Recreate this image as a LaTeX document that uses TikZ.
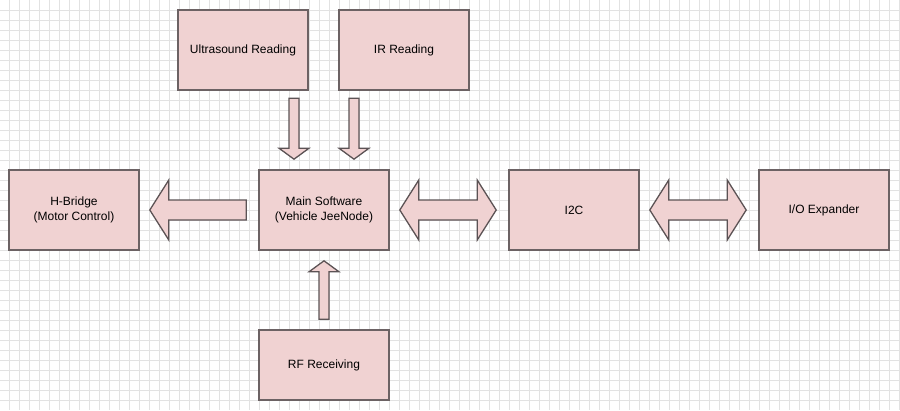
\documentclass[tikz,border=0pt]{standalone}
\usepackage{fontspec}
\setmainfont{Liberation Sans}
\usetikzlibrary{calc}

\definecolor{boxfill}{RGB}{240,210,210}
\definecolor{boxline}{RGB}{108,98,100}
\definecolor{gridcol}{RGB}{226,226,226}

\begin{document}
\begin{tikzpicture}[x=1pt, y=-1pt,
    block/.style={draw=boxline, fill=boxfill, line width=1.6pt, minimum width=130pt,
        minimum height=80pt, inner sep=0pt, align=center, font=\fontsize{12}{14.5}\selectfont},
    flow/.style={draw=boxline!85!black, fill=boxfill, line width=1.3pt, line join=miter}]

    % Page and grid
    \fill[white] (0,0) rectangle (900,410);
    \useasboundingbox (0,0) rectangle (900,410);
    \foreach \gx in {9.5,19.5,...,899.5}
        \draw[gridcol, line width=0.9pt] (\gx,0) -- (\gx,410);
    \foreach \gy in {10.5,20.5,...,400.5}
        \draw[gridcol, line width=0.9pt] (0,\gy) -- (900,\gy);

    % Boxes
    \node[block] (hbridge) at (74,210) {H-Bridge\\(Motor Control)};
    \node[block] (main) at (324,210) {Main Software\\(Vehicle JeeNode)};
    \node[block] (itwoc) at (574,210) {I2C};
    \node[block] (ioexp) at (824,210) {I/O Expander};
    \node[block] (ultra) at (243,50) {Ultrasound Reading};
    \node[block] (ir) at (404,50) {IR Reading};
    \node[block, minimum height=70pt] (rf) at (324,365) {RF Receiving};

    % Arrow ends (gaps to the boxes)
    \coordinate (ultraTop) at ($(main.north)+(-30,-71)$);
    \coordinate (ultraTip) at ($(main.north)+(-30,-10)$);
    \coordinate (irTop) at ($(main.north)+(30,-71)$);
    \coordinate (irTip) at ($(main.north)+(30,-10)$);
    \coordinate (rfTip) at ($(main.south)+(0,10)$);
    \coordinate (rfEnd) at ($(rf.north)+(0,-10)$);
    \coordinate (hbTip) at ($(hbridge.east)+(10,0)$);
    \coordinate (hbEnd) at ($(main.west)+(-12,0)$);
    \coordinate (busAL) at ($(main.east)+(10,0)$);
    \coordinate (busAR) at ($(itwoc.west)+(-12,0)$);
    \coordinate (busBL) at ($(itwoc.east)+(10,0)$);
    \coordinate (busBR) at ($(ioexp.west)+(-12,0)$);

    % Sensor inputs
    \draw[flow] ($(ultraTop)+(-5,0)$) -- ($(ultraTip)+(-5,-11)$) -- ++(-10,0) -- (ultraTip)
        -- ++(15,-11) -- ++(-10,0) -- ($(ultraTop)+(5,0)$) -- cycle;
    \draw[flow] ($(irTop)+(-5,0)$) -- ($(irTip)+(-5,-11)$) -- ++(-10,0) -- (irTip)
        -- ++(15,-11) -- ++(-10,0) -- ($(irTop)+(5,0)$) -- cycle;

    % Radio input
    \draw[flow] ($(rfEnd)+(-5,0)$) -- ($(rfTip)+(-5,11)$) -- ++(-10,0) -- (rfTip)
        -- ++(15,11) -- ++(-10,0) -- ($(rfEnd)+(5,0)$) -- cycle;

    % Motor output
    \draw[flow] (hbTip) -- ++(19,-30) -- ++(0,20) -- ($(hbEnd)+(0,-10)$) -- ($(hbEnd)+(0,10)$)
        -- ($(hbTip)+(19,10)$) -- ++(0,20) -- cycle;

    % Bus links
    \draw[flow] (busAL) -- ++(19,-30) -- ++(0,20) -- ($(busAR)+(-19,-10)$) -- ++(0,-20) -- (busAR)
        -- ++(-19,30) -- ++(0,-20) -- ($(busAL)+(19,10)$) -- ++(0,20) -- cycle;
    \draw[flow] (busBL) -- ++(19,-30) -- ++(0,20) -- ($(busBR)+(-19,-10)$) -- ++(0,-20) -- (busBR)
        -- ++(-19,30) -- ++(0,-20) -- ($(busBL)+(19,10)$) -- ++(0,20) -- cycle;
\end{tikzpicture}
\end{document}
